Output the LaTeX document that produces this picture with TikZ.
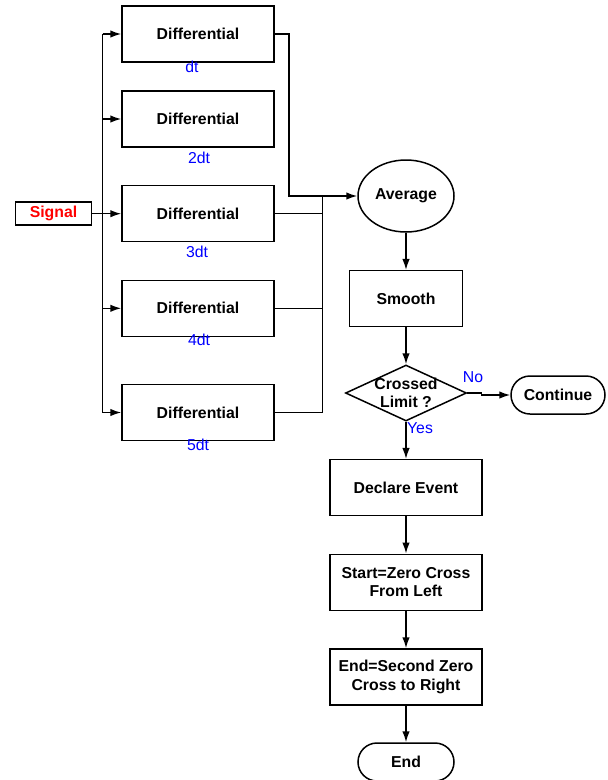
\documentclass[tikz,border=0pt]{standalone}
\usepackage{fontspec}
\setmainfont{Liberation Sans}
\usetikzlibrary{arrows.meta,shapes.geometric}

\begin{document}
\begin{tikzpicture}[x=1pt, y=-1pt, >={Latex[length=11pt,width=7.5pt]},
  default/.style={draw=black, line width=1.5pt, solid, fill=white, font=\fontsize{15.8}{18.3}\selectfont\bfseries, align=center, inner sep=0pt},
  box/.style={default, rectangle, minimum width=152pt, minimum height=56pt},
  terminal/.style={default, rectangle, rounded corners=19pt, minimum width=96pt, minimum height=38pt},
  decision/.style={default, diamond, minimum width=121pt, minimum height=56pt},
  average/.style={default, ellipse, minimum width=96pt, minimum height=72pt},
  note/.style={text=blue, font=\fontsize{15.8}{18}\selectfont, inner sep=0pt},
  every path/.style={line width=1.5pt}]
\useasboundingbox (0,0) rectangle (608,780);
\node[default, minimum width=76pt, minimum height=23pt, text=red] (Sig) at (53.5,213.7) {Signal};
\node[box] (D1) at (198,34) {Differential};
\node[box] (D2) at (198,119) {Differential};
\node[box] (D3) at (198,213.7) {Differential};
\node[box] (D4) at (198,308.3) {Differential};
\node[box] (D5) at (198,412.5) {Differential};
\node[note] (L1) at (192,67) {dt};
\node[note] (L2) at (199,158) {2dt};
\node[note] (L3) at (197,251.5) {3dt};
\node[note] (L4) at (199,340) {4dt};
\node[note] (L5) at (198,445) {5dt};
\node[average] (Avg) at (406,196) {Average};
\node[box, minimum width=113pt] (Smo) at (406,298.7) {Smooth};
\node[decision] (Cro) at (406,393) {};
\node[default, draw=none, fill=none] (CroT) at (406,393) {Crossed\\Limit ?};
\node[note] (No) at (473,377) {No};
\node[note] (Yes) at (420,428.5) {Yes};
\node[terminal, minimum width=94pt] (Con) at (558,395) {Continue};
\node[box] (Dec) at (406,487.7) {Declare Event};
\node[box] (Sta) at (406,582.3) {Start=Zero Cross\\From Left};
\node[box] (Fin) at (406,677) {End=Second Zero\\Cross to Right};
\node[terminal] (End) at (406,762) {End};
\coordinate (Bus) at (102.7,213.7);
\coordinate (Mix) at (322.7,196);
\draw [] (Sig) -- (Bus) ;
\draw [] (Bus |- D1) -- (Bus |- D5) ;
\draw [->] (Bus) -- (D3) ;
\draw [->] (Bus |- D1) -- (D1) ;
\draw [->] (Bus |- D2) -- (D2) ;
\draw [->] (Bus |- D4) -- (D4) ;
\draw [->] (Bus |- D5) -- (D5) ;
\draw [->] (D1.east) -- ++(14,0) |- (Avg.west) ;
\draw [] (D3) -- (Mix |- D3) ;
\draw [] (D4) -- (Mix |- D4) ;
\draw [] (D5) -- (Mix |- D5) ;
\draw [] (Mix) -- (Mix |- D5) ;
\draw [->] (Avg) -- (Smo) ;
\draw [->] (Smo) -- (Cro) ;
\draw [->] (Cro.east) -- ++(14,0) |- (Con.west) ;
\draw [->] (Cro) -- (Dec) ;
\draw [->] (Dec) -- (Sta) ;
\draw [->] (Sta) -- (Fin) ;
\draw [->] (Fin) -- (End) ;
\end{tikzpicture}
\end{document}
